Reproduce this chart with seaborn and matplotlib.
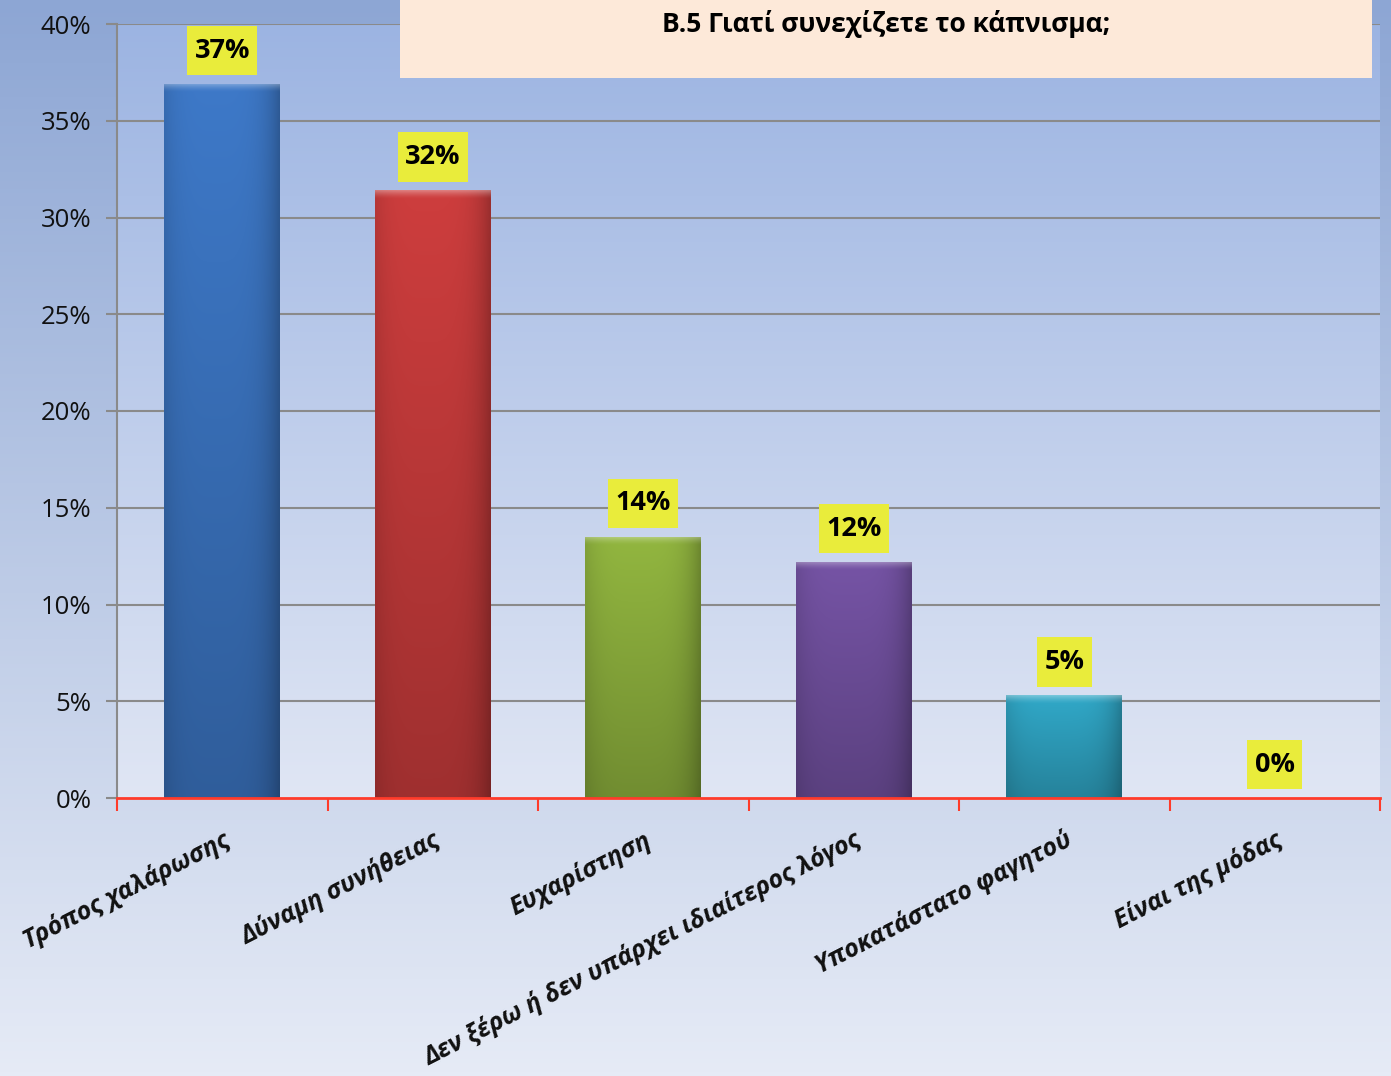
import numpy as np
import pandas as pd
import matplotlib
matplotlib.use("Agg")
import matplotlib.pyplot as plt
import seaborn as sns
from matplotlib.colors import to_rgb
from matplotlib.patches import Rectangle
from matplotlib.path import Path

categories = ["Τρόπος χαλάρωσης", "Δύναμη συνήθειας", "Ευχαρίστηση",
              "Δεν ξέρω ή δεν υπάρχει ιδιαίτερος λόγος",
              "Υποκατάστατο φαγητού", "Είναι της μόδας"]
values = [36.9, 31.4, 13.5, 12.2, 5.3, 0.0]
value_labels = ["37%", "32%", "14%", "12%", "5%", "0%"]
bar_colors = ["#3a72bd", "#c23a3a", "#8aac3c", "#6f4f9c", "#2e9fbd", "#8aa0c8"]
yticks = [0, 5, 10, 15, 20, 25, 30, 35, 40]
ytick_labels = ["0%", "5%", "10%", "15%", "20%", "25%", "30%", "35%", "40%"]
title = "B.5 Γιατί συνεχίζετε το κάπνισμα;"

df = pd.DataFrame({"cat": categories, "val": values})

sns.set_theme(style="white")
plt.rcParams['font.family'] = ['Open Sans', 'DejaVu Sans']

W, H = 1391, 1076
fig = plt.figure(figsize=(W / 100, H / 100), dpi=100)

# figure background gradient
bg = fig.add_axes([0, 0, 1, 1], zorder=-10)
g = np.linspace(0, 1, 256)[:, None, None]
top_c = np.array(to_rgb("#8da6d4"))
bot_c = np.array(to_rgb("#e6ebf6"))
img = top_c * (1 - g) + bot_c * g
bg.imshow(img, aspect='auto', extent=[0, 1, 0, 1], origin='upper')
bg.set_xlim(0, 1); bg.set_ylim(0, 1)
bg.axis('off')

left, right, top, bottom = 117 / W, 1380 / W, 1 - 24 / H, 1 - 798 / H
ax = fig.add_axes([left, bottom, right - left, top - bottom])
ax.set_facecolor('none')

# plot-area gradient
top_p = np.array(to_rgb("#9cb4e2"))
bot_p = np.array(to_rgb("#e0e6f4"))
img2 = top_p * (1 - g) + bot_p * g
ax.imshow(img2, aspect='auto', extent=[0, 1, 0, 1], origin='upper',
          transform=ax.transAxes, zorder=0.1)

sns.barplot(data=df, x="cat", y="val", hue="cat", palette=bar_colors,
            legend=False, width=0.55, saturation=1, ax=ax, zorder=3,
            linewidth=0)

ax.set_xlim(-0.5, 5.5)
ax.set_ylim(0, 40)

# gradient shading on bars
for p, col in zip(ax.patches, bar_colors):
    h = p.get_height()
    if h <= 0:
        continue
    x0 = p.get_x(); w = p.get_width()
    base = np.array(to_rgb(col))
    nrows = max(int(h * 40), 8)
    ncols = 80
    yy = np.linspace(0, 1, nrows)[:, None]          # 0 top -> 1 bottom
    xx = np.linspace(0, 1, ncols)[None, :]
    vert = 1.06 - 0.24 * yy
    edge = 1 - 0.25 * (np.abs(xx - 0.45) / 0.55) ** 4
    fac = vert * edge
    im = np.clip(base[None, None, :] * fac[..., None], 0, 1)
    # top bevel highlight (fades downward)
    bev_h = 0.45  # in data units
    depth = (yy * h) / bev_h
    a = np.clip(1 - depth, 0, 1) ** 1.5 * 0.35
    im = np.clip(im * (1 - a[..., None]) + a[..., None] * 1.0, 0, 1)
    art = ax.imshow(im, aspect='auto', extent=[x0, x0 + w, 0, h], origin='upper',
                    zorder=3.5, interpolation='bilinear')
    art.set_clip_path(p)

ax.set_xlim(-0.5, 5.5)
ax.set_ylim(0, 40)

# grid and spines
for yv in yticks[1:]:
    ax.axhline(yv, color='#8a8a8a', lw=1.5, zorder=0.5)
for s in ["top", "right"]:
    ax.spines[s].set_visible(False)
ax.spines["left"].set_color('#8a8a8a')
ax.spines["left"].set_linewidth(1.5)
ax.spines["bottom"].set_color('#ff3b2a')
ax.spines["bottom"].set_linewidth(2)
ax.spines["bottom"].set_zorder(5)

ax.set_yticks(yticks)
ax.set_yticklabels(ytick_labels, fontsize=18.5, color='#111111')
ax.tick_params(axis='y', direction='out', length=8, width=1.5, color='#8a8a8a',
               left=True, pad=10.5)

ax.set_xticks(range(len(categories)))
ax.set_xticks(np.arange(-0.5, len(categories), 1.0), minor=True)
ax.set_xticklabels(categories, rotation=27, ha='right', va='top',
                   rotation_mode='anchor', fontsize=18, fontweight='bold',
                   fontstyle='italic', color='#111111')
ax.tick_params(axis='x', which='major', length=0, pad=21)
ax.tick_params(axis='x', which='minor', direction='out', length=9, width=1.5,
               color='#ff3b2a', bottom=True)
ax.set_xlabel("")
ax.set_ylabel("")


def label_box(x0, y0, width, height, mutation_size):
    px = 0.27 * mutation_size
    py = 0.43 * mutation_size
    x0 -= px; y0 -= py
    x1 = x0 + width + 2 * px
    y1 = y0 + height + 2 * py
    return Path([(x0, y0), (x1, y0), (x1, y1), (x0, y1), (x0, y0)], closed=True)


# value labels
for i, (v, lab) in enumerate(zip(values, value_labels)):
    ax.annotate(lab, xy=(i, v), xytext=(0, 24), textcoords='offset points',
                ha='center', va='center', fontsize=19.5, fontweight='bold',
                color='black', zorder=6,
                bbox=dict(boxstyle=label_box, fc='#e9ec3b', ec='none'))

# title box
fig.patches.append(Rectangle((400 / W, 1 - 78 / H), (1372 - 400) / W, 78 / H,
                             transform=fig.transFigure, facecolor='#fde9d9',
                             edgecolor='none', zorder=10))
fig.text(886 / W, 1 - 24 / H, title, ha='center', va='center', fontsize=19,
         fontweight='bold', color='black', zorder=11)

fig.savefig("out.png", dpi=100)
